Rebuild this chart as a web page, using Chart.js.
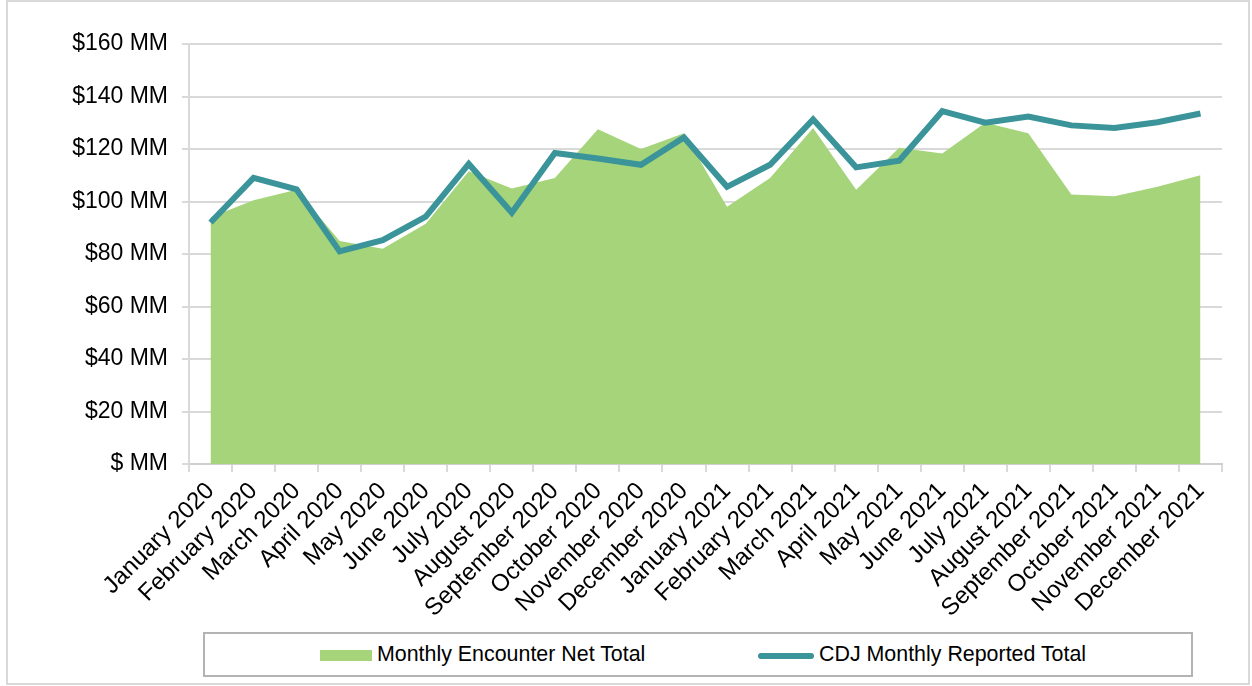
<!DOCTYPE html>
<html>
<head>
<meta charset="utf-8">
<script src="https://cdn.jsdelivr.net/npm/chart.js@4"></script>
<style>
  body { margin: 0; background: #fff; font-family: "Liberation Sans", Arial, sans-serif; }
  .frame { position: absolute; left: 6px; top: 0; width: 1244px; height: 685px; box-sizing: border-box; border: 2px solid #d9d9d9; }
  #chart { position: absolute; left: 0; top: 0; }
  .legend { position: absolute; left: 203px; top: 632px; width: 990px; height: 45px; box-sizing: border-box; border: 2px solid #b3b3b3; background: #fff; }
  .item { position: absolute; top: 0; height: 41px; line-height: 41px; font-size: 21.4px; color: #000; white-space: nowrap; }
  .swatch-area { position: absolute; left: 115px; top: 16px; width: 52px; height: 11px; background: #a5d47a; }
  .swatch-line { position: absolute; left: 553px; top: 19px; width: 56px; height: 6px; border-radius: 3px; background: #3a9499; }
</style>
</head>
<body>
<div class="frame"></div>
<canvas id="chart" width="1252" height="630"></canvas>
<div class="legend">
  <div class="swatch-area"></div>
  <div class="item" style="left:172px">Monthly Encounter Net Total</div>
  <div class="swatch-line"></div>
  <div class="item" style="left:614px">CDJ Monthly Reported Total</div>
</div>
<script>
const months = [
  "January 2020", "February 2020", "March 2020", "April 2020", "May 2020", "June 2020",
  "July 2020", "August 2020", "September 2020", "October 2020", "November 2020", "December 2020",
  "January 2021", "February 2021", "March 2021", "April 2021", "May 2021", "June 2021",
  "July 2021", "August 2021", "September 2021", "October 2021", "November 2021", "December 2021"
];

// values in $ millions
const encounterNet = [94, 100.5, 104.5, 85, 82, 91.5, 111.5, 105, 109, 127.5, 120, 126,
                      98, 109, 128, 104.5, 120.5, 118.3, 130, 126, 102.7, 102, 105.6, 110];
const cdjReported = [92, 109, 104.6, 81, 85.3, 94.2, 114.3, 95.7, 118.5, 116.4, 114, 124.4,
                     105.6, 114, 131.3, 113, 115.5, 134.4, 130, 132.4, 129, 128, 130.2, 133.5];

const yMin = 0;
const yMax = 160;
const yStep = 20;

const tickFont = { family: "'Liberation Sans', Arial, sans-serif", size: 23 };
const xFont = { family: "'Liberation Sans', Arial, sans-serif", size: 24 };

// soft shadow under the green area, like the office chart
const areaShadow = {
  id: "areaShadow",
  beforeDatasetDraw(chart, args) {
    if (args.index !== 1) return;
    const ctx = chart.ctx;
    ctx.save();
    ctx.shadowColor = "rgba(0,0,0,0.28)";
    ctx.shadowBlur = 4;
    ctx.shadowOffsetX = 2;
    ctx.shadowOffsetY = 2;
  },
  afterDatasetDraw(chart, args) {
    if (args.index !== 1) return;
    chart.ctx.restore();
  }
};

new Chart(document.getElementById("chart"), {
  type: "line",
  data: {
    labels: months,
    datasets: [
      {
        label: "CDJ Monthly Reported Total",
        data: cdjReported,
        borderColor: "#3a9499",
        borderWidth: 6,
        pointRadius: 0,
        tension: 0,
        fill: false,
        order: 0
      },
      {
        label: "Monthly Encounter Net Total",
        data: encounterNet,
        backgroundColor: "#a5d47a",
        borderWidth: 0,
        pointRadius: 0,
        tension: 0,
        fill: "origin",
        order: 1
      }
    ]
  },
  options: {
    responsive: false,
    animation: false,
    layout: { padding: { left: 0, right: 30, top: 44, bottom: 0 } },
    plugins: {
      legend: { display: false },
      tooltip: { enabled: false }
    },
    scales: {
      x: {
        offset: true,
        grid: { offset: true, drawOnChartArea: false, color: "#d9d9d9", lineWidth: 2, tickLength: 8 },
        border: { color: "#cfcfcf", width: 2 },
        ticks: { color: "#000", font: xFont, minRotation: 45, maxRotation: 45, padding: 5, autoSkip: false },
        afterFit(scale) { scale.height = 166; }
      },
      y: {
        min: yMin,
        max: yMax,
        grid: { color: "#d9d9d9", lineWidth: 2, tickLength: 7 },
        border: { color: "#d9d9d9", width: 2 },
        ticks: {
          stepSize: yStep,
          color: "#000",
          font: tickFont,
          padding: 14,
          callback: (v) => v === 0 ? "$ MM" : "$" + v + " MM"
        },
        afterFit(scale) { scale.width = 189; }
      }
    }
  },
  plugins: [areaShadow]
});
</script>
</body>
</html>
